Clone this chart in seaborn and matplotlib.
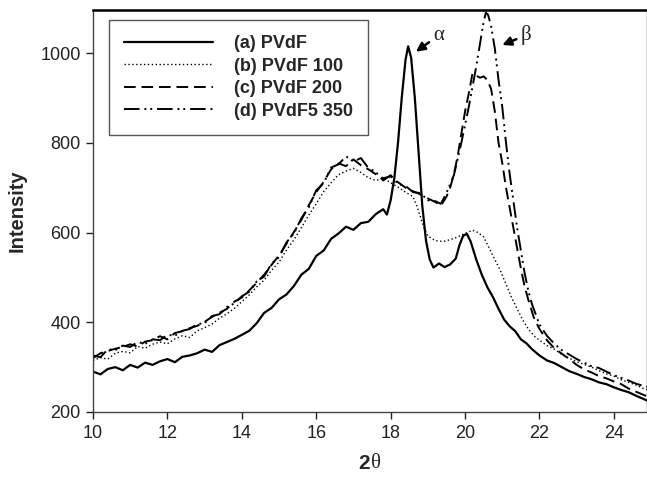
import matplotlib
matplotlib.use("Agg")
import matplotlib.pyplot as plt
import seaborn as sns

# XRD patterns
a_theta = [10.0, 10.2, 10.4, 10.6, 10.8, 11.0, 11.2, 11.4, 11.6, 11.8, 12.0, 12.2, 12.4, 12.6, 12.8,
           13.0, 13.2, 13.4, 13.6, 13.8, 14.0, 14.2, 14.4, 14.6, 14.8, 15.0, 15.2, 15.4, 15.6, 15.8,
           16.0, 16.2, 16.4, 16.6, 16.8, 17.0, 17.2, 17.4, 17.6, 17.8, 17.9, 18.0, 18.1, 18.2, 18.3,
           18.4, 18.47, 18.55, 18.65, 18.75, 18.85, 18.95, 19.05, 19.15, 19.3, 19.45, 19.6, 19.75,
           19.85, 19.95, 20.05, 20.15, 20.3, 20.45, 20.6, 20.75, 20.9, 21.05, 21.2, 21.35, 21.5,
           21.65, 21.8, 22.0, 22.2, 22.4, 22.6, 22.8, 23.0, 23.2, 23.4, 23.6, 23.8, 24.0, 24.2,
           24.4, 24.6, 24.8, 24.9]
a_int = [290, 284, 296, 300, 293, 305, 299, 310, 305, 313, 318, 311, 323, 326, 331,
         339, 334, 349, 356, 363, 372, 381, 398, 421, 432, 451, 462, 481, 506, 519,
         548, 560, 586, 598, 613, 606, 621, 624, 641, 652, 640, 672, 722, 802, 902,
         985, 1015, 990, 900, 780, 660, 582, 540, 522, 531, 523, 529, 542,
         572, 593, 597, 580, 540, 506, 478, 456, 430, 406, 391, 380, 362,
         353, 340, 326, 315, 309, 300, 291, 285, 278, 273, 266, 262, 255, 249,
         244, 236, 229, 225]

b_theta = [10.0, 10.2, 10.4, 10.6, 10.8, 11.0, 11.2, 11.4, 11.6, 11.8, 12.0, 12.2, 12.4, 12.6, 12.8,
           13.0, 13.2, 13.4, 13.6, 13.8, 14.0, 14.2, 14.4, 14.6, 14.8, 15.0, 15.2, 15.4, 15.6, 15.8,
           16.0, 16.2, 16.4, 16.6, 16.8, 17.0, 17.2, 17.4, 17.6, 17.8, 18.0, 18.2, 18.4, 18.6, 18.7,
           18.8, 18.9, 19.0, 19.2, 19.4, 19.6, 19.8, 20.0, 20.2, 20.35, 20.5, 20.65, 20.8, 20.95,
           21.1, 21.25, 21.4, 21.55, 21.7, 21.85, 22.0, 22.2, 22.4, 22.6, 22.8, 23.0, 23.2, 23.4,
           23.6, 23.8, 24.0, 24.2, 24.4, 24.6, 24.8, 24.9]
b_int = [315, 321, 318, 331, 335, 332, 346, 342, 351, 356, 352, 363, 370, 366, 381,
         388, 396, 409, 419, 431, 446, 461, 479, 494, 516, 534, 561, 584, 611, 639,
         664, 691, 711, 729, 737, 743, 734, 722, 716, 721, 711, 701, 690, 680, 660,
         635, 610, 592, 582, 580, 584, 590, 598, 605, 600, 590, 565, 540, 515,
         485, 455, 430, 405, 385, 370, 360, 348, 340, 328, 320, 312, 306, 300,
         292, 285, 280, 272, 266, 260, 252, 250]

c_theta = [10.0, 10.2, 10.4, 10.6, 10.8, 11.0, 11.2, 11.4, 11.6, 11.8, 12.0, 12.2, 12.4, 12.6, 12.8,
           13.0, 13.2, 13.4, 13.6, 13.8, 14.0, 14.2, 14.4, 14.6, 14.8, 15.0, 15.2, 15.4, 15.6, 15.8,
           16.0, 16.2, 16.4, 16.6, 16.8, 17.0, 17.2, 17.4, 17.6, 17.8, 18.0, 18.2, 18.4, 18.6, 18.8,
           19.0, 19.2, 19.35, 19.5, 19.6, 19.7, 19.8, 19.9, 20.0, 20.1, 20.2, 20.3, 20.4, 20.5,
           20.6, 20.7, 20.8, 20.9, 21.0, 21.1, 21.2, 21.3, 21.4, 21.5, 21.6, 21.7, 21.85, 22.0,
           22.2, 22.4, 22.6, 22.8, 23.0, 23.2, 23.4, 23.6, 23.8, 24.0, 24.2, 24.4, 24.6, 24.8, 24.9]
c_int = [320, 331, 336, 341, 345, 351, 346, 357, 360, 369, 362, 376, 380, 387, 392,
         401, 412, 421, 430, 446, 455, 471, 488, 506, 528, 549, 575, 601, 628, 661,
         690, 713, 741, 754, 748, 763, 750, 741, 730, 721, 725, 712, 700, 692, 685,
         676, 668, 660, 680, 700, 730, 770, 820, 870, 910, 955, 950, 945, 948,
         940, 920, 870, 800, 755, 700, 655, 610, 565, 520, 480, 450, 410, 385,
         360, 342, 330, 318, 305, 295, 288, 280, 275, 268, 262, 252, 245, 238, 235]

d_theta = [10.0, 10.2, 10.4, 10.6, 10.8, 11.0, 11.2, 11.4, 11.6, 11.8, 12.0, 12.2, 12.4, 12.6, 12.8,
           13.0, 13.2, 13.4, 13.6, 13.8, 14.0, 14.2, 14.4, 14.6, 14.8, 15.0, 15.2, 15.4, 15.6, 15.8,
           16.0, 16.2, 16.4, 16.6, 16.8, 17.0, 17.2, 17.4, 17.6, 17.8, 18.0, 18.2, 18.4, 18.6, 18.8,
           19.0, 19.2, 19.35, 19.5, 19.7, 19.9, 20.1, 20.2, 20.3, 20.4, 20.5, 20.56, 20.62, 20.7,
           20.8, 20.9, 21.0, 21.1, 21.2, 21.3, 21.4, 21.5, 21.6, 21.7, 21.8, 22.0, 22.2, 22.4,
           22.6, 22.8, 23.0, 23.2, 23.4, 23.6, 23.8, 24.0, 24.2, 24.4, 24.6, 24.8, 24.9]
d_int = [326, 322, 340, 338, 348, 345, 356, 352, 362, 360, 372, 370, 381, 385, 396,
         398, 414, 418, 434, 442, 458, 468, 491, 502, 531, 545, 578, 598, 632, 656,
         694, 710, 745, 752, 770, 758, 766, 744, 735, 716, 728, 708, 704, 690, 688,
         672, 670, 664, 688, 728, 800, 880, 925, 970, 1020, 1070, 1090, 1085, 1060,
         1010, 940, 880, 800, 730, 670, 610, 560, 510, 470, 440, 395, 370, 352,
         338, 328, 318, 310, 302, 298, 290, 282, 276, 270, 263, 258, 256]

labels = ["(a) PVdF", "(b) PVdF 100", "(c) PVdF 200", "(d) PVdF5 350"]

sns.set_style("white")
plt.rcParams["font.family"] = ["Liberation Sans", "DejaVu Sans"]

fig = plt.figure(figsize=(6.47, 4.78), dpi=100)
ax = fig.add_axes([93 / 647, 66 / 478, 554 / 647, 402 / 478])

series = [
    (a_theta, a_int, "-", 1.6),
    (b_theta, b_int, (0, (1, 1.8)), 1.0),
    (c_theta, c_int, (0, (6, 3)), 1.4),
    (d_theta, d_int, (0, (8, 2.5, 1, 2, 1, 2.5)), 1.4),
]
for (xs, ys, ls, lw), lab in zip(series, labels):
    sns.lineplot(x=xs, y=ys, ax=ax, color="black", linestyle=ls, linewidth=lw, label=lab)

ax.set_xlim(10, 24.89)
ax.set_ylim(200, 1096)
ax.set_xticks(range(10, 25, 2))
ax.set_yticks(range(200, 1001, 200))
ax.tick_params(direction="out", length=5, width=1, labelsize=13, colors="#222222",
               bottom=True, left=True, pad=4)
for side in ["left", "bottom", "right"]:
    ax.spines[side].set_color("#444444")
    ax.spines[side].set_linewidth(1.0)
ax.spines["top"].set_color("black")
ax.spines["top"].set_linewidth(1.8)

ax.set_ylabel("Intensity", fontsize=14.5, fontweight="bold", labelpad=10)
ax.set_xlabel("")
fig.text(370 / 647, 0.03, "2", fontsize=15, fontweight="bold", ha="right", va="center")
fig.text(371 / 647, 0.03, "θ", fontsize=15, family="Liberation Serif", ha="left", va="center")

# peak markers
ax.annotate("α", xy=(18.68, 1003), xytext=(19.15, 1040), fontsize=15, family="Liberation Serif",
            va="center", ha="left",
            arrowprops=dict(arrowstyle="-|>", color="black", lw=1.8, mutation_scale=13,
                            shrinkA=1, shrinkB=0))
ax.annotate("β", xy=(21.0, 1018), xytext=(21.5, 1040), fontsize=15, family="Liberation Serif",
            va="center", ha="left",
            arrowprops=dict(arrowstyle="-|>", color="black", lw=1.8, mutation_scale=13,
                            shrinkA=1, shrinkB=0))

leg = ax.legend(loc="upper left", bbox_to_anchor=(16 / 554, 392 / 402), borderaxespad=0,
                frameon=True, fancybox=False, edgecolor="#555555", framealpha=1,
                handlelength=4.9, handletextpad=1.15, labelspacing=0.3, borderpad=0.85,
                prop={"weight": "bold", "size": 13})
leg.get_frame().set_linewidth(1.0)

fig.savefig("out.png", dpi=100)
